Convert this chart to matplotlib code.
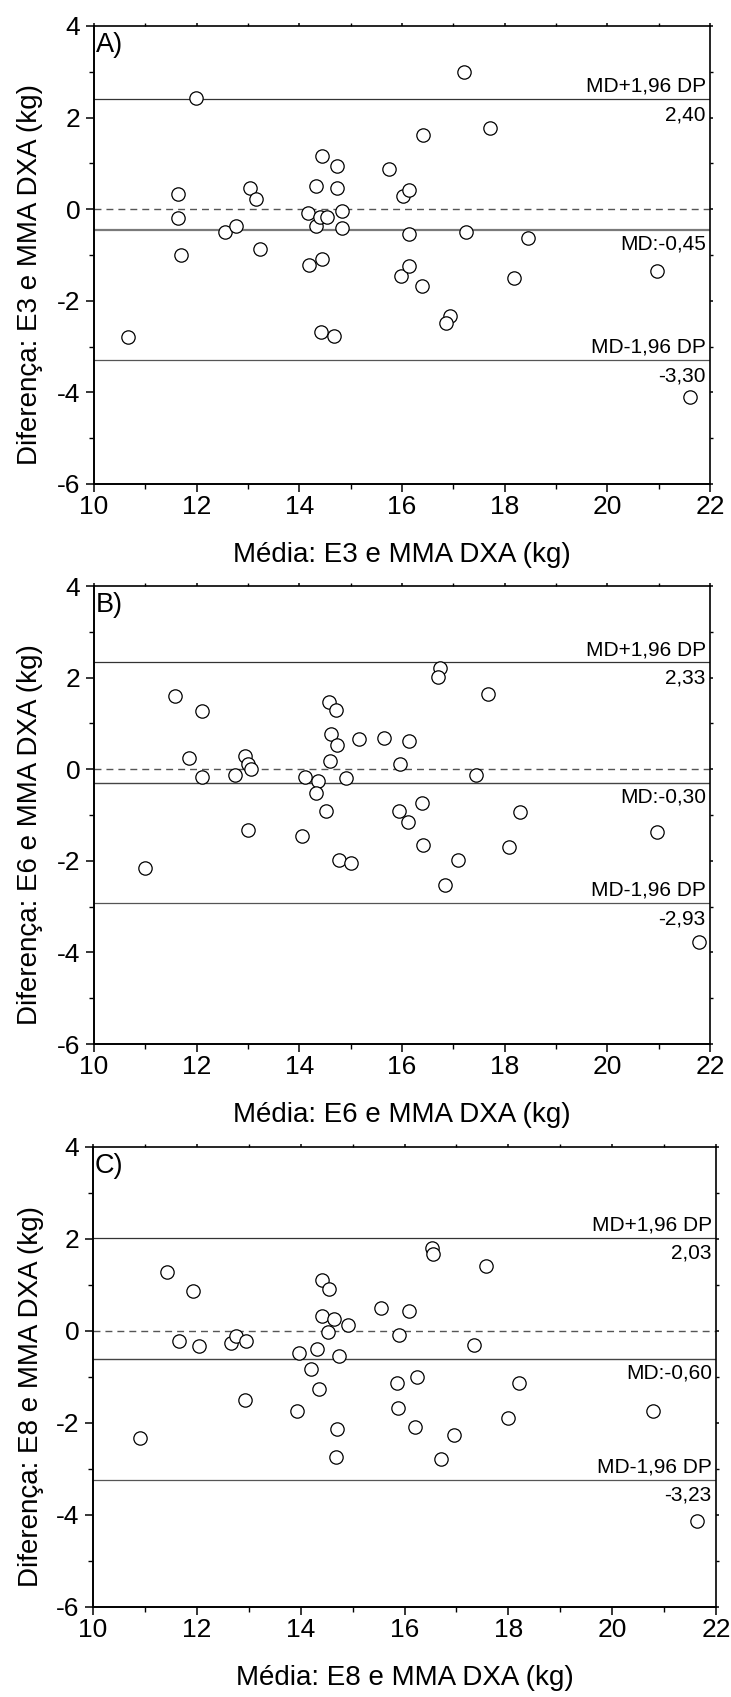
import matplotlib
matplotlib.use("Agg")
import matplotlib.pyplot as plt
from matplotlib.ticker import MultipleLocator

plt.rcParams['font.family'] = ['Liberation Sans', 'DejaVu Sans']

# ---------------- data ----------------
panel_labels = ["A)", "B)", "C)"]
method_names = ["E3", "E6", "E8"]

xA = [10.66, 11.98, 11.64, 11.63, 11.69, 12.55, 12.76, 13.03, 13.16, 13.23,
      14.17, 14.19, 14.33, 14.33, 14.40, 14.44, 14.44, 14.43, 14.53, 14.67,
      14.73, 14.73, 14.83, 14.83, 15.75, 16.01, 16.14, 15.98, 16.14, 16.14,
      16.40, 16.39, 16.93, 16.85, 17.20, 17.24, 17.72, 18.18, 18.45, 20.97, 21.62]
yA = [-2.80, 2.42, 0.33, -0.19, -1.00, -0.49, -0.37, 0.46, 0.22, -0.87,
      -0.09, -1.21, 0.51, -0.37, -0.16, 1.16, -1.09, -2.69, -0.16, -2.77,
      0.94, 0.47, -0.03, -0.40, 0.88, 0.28, 0.43, -1.45, -0.55, -1.24,
      1.61, -1.68, -2.33, -2.48, 3.00, -0.49, 1.77, -1.50, -0.62, -1.36, -4.10]

xB = [10.99, 11.57, 12.11, 11.86, 12.11, 12.74, 12.94, 13.00, 13.05, 13.00,
      14.06, 14.12, 14.36, 14.33, 14.51, 14.57, 14.71, 14.62, 14.73, 14.60,
      14.91, 14.77, 15.01, 15.16, 15.65, 16.14, 15.96, 15.94, 16.11, 16.38,
      16.40, 16.74, 16.70, 17.68, 17.44, 17.10, 16.83, 18.30, 18.09, 20.97, 21.79]
yB = [-2.15, 1.60, 1.28, 0.25, -0.18, -0.12, 0.28, 0.11, 0.00, -1.33,
      -1.45, -0.17, -0.26, -0.51, -0.91, 1.46, 1.30, 0.76, 0.52, 0.17,
      -0.19, -1.99, -2.04, 0.65, 0.68, 0.61, 0.11, -0.92, -1.16, -0.73,
      -1.66, 2.20, 2.01, 1.64, -0.13, -1.98, -2.52, -0.93, -1.69, -1.37, -3.78]

xC = [10.90, 11.43, 11.92, 11.65, 12.05, 12.66, 12.76, 12.95, 12.93, 13.92,
      13.97, 14.19, 14.32, 14.35, 14.42, 14.54, 14.42, 14.64, 14.52, 14.91,
      14.74, 14.70, 14.69, 15.55, 16.08, 15.89, 15.85, 15.88, 16.25, 16.20,
      16.53, 16.54, 17.57, 17.34, 16.95, 16.70, 18.20, 17.99, 20.79, 21.63]
yC = [-2.33, 1.29, 0.87, -0.21, -0.33, -0.26, -0.10, -0.21, -1.49, -1.74,
      -0.48, -0.82, -0.39, -1.25, 1.11, 0.92, 0.32, 0.27, -0.02, 0.14,
      -0.55, -2.14, -2.73, 0.50, 0.44, -0.09, -1.13, -1.67, -0.99, -2.09,
      1.80, 1.68, 1.42, -0.31, -2.27, -2.79, -1.13, -1.89, -1.73, -4.14]

md_values = [-0.45, -0.30, -0.60]
upper_values = [2.40, 2.33, 2.03]
lower_values = [-3.30, -2.93, -3.23]

xs = [xA, xB, xC]
ys = [yA, yB, yC]

# ---------------- layout ----------------
W, H = 731, 1697
fig = plt.figure(figsize=(W / 100, H / 100), dpi=100)

axes_px = [(94, 26, 710, 484), (94, 586, 710, 1044), (93, 1147, 716, 1607)]
md_colors = ['#7a7a7a', '#444444', '#444444']
md_widths = [1.6, 1.0, 1.0]

def fmt(v):
    return f"{v:.2f}".replace(".", ",")

for i in range(3):
    x0, t, x1, b = axes_px[i]
    ax = fig.add_axes([x0 / W, (H - b) / H, (x1 - x0) / W, (b - t) / H])
    ax.set_xlim(10, 22)
    ax.set_ylim(-6, 4)

    ax.axhline(0, color='#555555', lw=1.0, ls=(0, (5, 3.6)), zorder=1)
    ax.axhline(md_values[i], color=md_colors[i], lw=md_widths[i], zorder=1)
    ax.axhline(upper_values[i], color='#333333', lw=0.9, zorder=1)
    ax.axhline(lower_values[i], color='#555555', lw=0.9, zorder=1)

    ax.plot(xs[i], ys[i], 'o', ms=9.6, mfc='white', mec='black', mew=0.9,
            ls='none', zorder=3)

    fs_ann = 15
    common = dict(xycoords=('axes fraction', 'data'), textcoords='offset points',
                  ha='right', fontsize=fs_ann)
    ax.annotate("MD+1,96 DP", xy=(1, upper_values[i]), xytext=(-3, 2.5), va='bottom', **common)
    ax.annotate(fmt(upper_values[i]), xy=(1, upper_values[i]), xytext=(-3, -4.5), va='top', **common)
    ax.annotate("MD:" + fmt(md_values[i]), xy=(1, md_values[i]), xytext=(-3, -3.5), va='top', **common)
    ax.annotate("MD-1,96 DP", xy=(1, lower_values[i]), xytext=(-3, 2.5), va='bottom', **common)
    ax.annotate(fmt(lower_values[i]), xy=(1, lower_values[i]), xytext=(-3, -4.5), va='top', **common)

    ax.text(0.003, 0.987, panel_labels[i], transform=ax.transAxes, ha='left', va='top',
            fontsize=19.5)

    ax.xaxis.set_major_locator(MultipleLocator(2))
    ax.xaxis.set_minor_locator(MultipleLocator(1))
    ax.yaxis.set_major_locator(MultipleLocator(2))
    ax.yaxis.set_minor_locator(MultipleLocator(1))
    ax.tick_params(which='major', direction='out', length=5.8, width=1.1, labelsize=19,
                   top=True, right=True)
    ax.tick_params(which='minor', direction='out', length=3.6, width=1.0,
                   top=True, right=True)
    ax.tick_params(axis='x', which='major', pad=2.2)
    ax.tick_params(axis='y', which='major', pad=4)
    ax.tick_params(axis='x', which='both', labeltop=False)
    ax.tick_params(axis='y', which='both', labelright=False)
    ax.set_yticks([4, 2, 0, -2, -4, -6])
    ax.set_yticklabels(['4', '2', '0', '-2', '-4', '-6'])
    for tk in ax.xaxis.get_major_ticks() + ax.xaxis.get_minor_ticks():
        tk.tick2line.set_markersize(2.2)
    for tk in ax.yaxis.get_major_ticks() + ax.yaxis.get_minor_ticks():
        tk.tick2line.set_markersize(2.2)

    for name, s in ax.spines.items():
        s.set_linewidth(1.4 if name in ('left', 'bottom') else 1.2)

    ax.set_xlabel(f"Média: {method_names[i]} e MMA DXA (kg)", fontsize=20)
    ax.set_ylabel(f"Diferença: {method_names[i]} e MMA DXA (kg)", fontsize=20)
    hpx = b - t
    wpx = x1 - x0
    ax.xaxis.set_label_coords(0.5, -58 / hpx)
    ax.yaxis.set_label_coords((43.5 - x0) / wpx, 0.457)

fig.savefig("out.png", dpi=100)
